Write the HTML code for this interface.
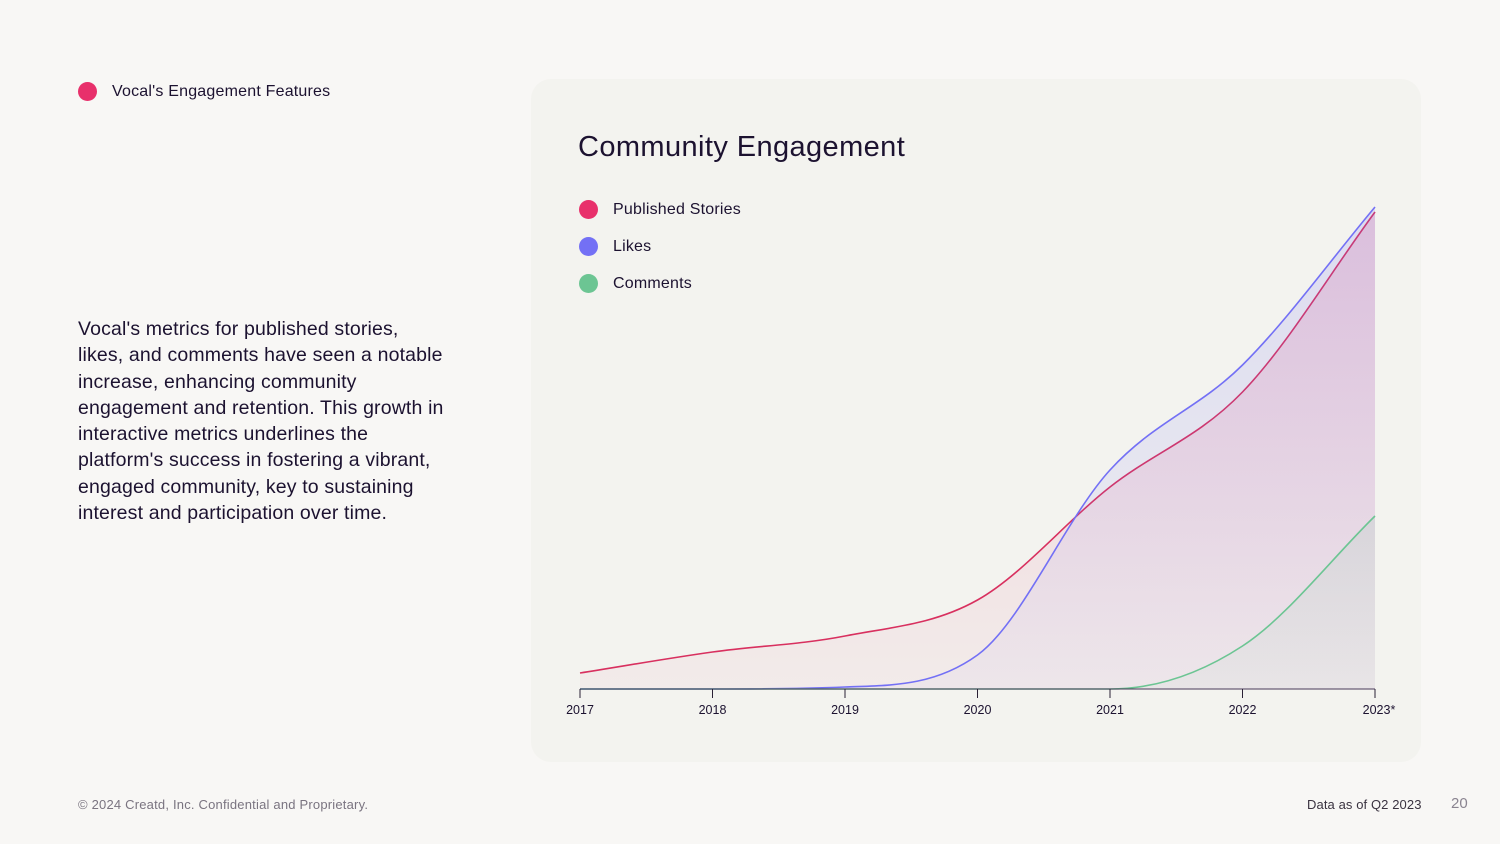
<!DOCTYPE html>
<html><head><meta charset="utf-8"><style>
body{margin:0;width:1500px;height:844px;background:#f8f7f5;font-family:"Liberation Sans",sans-serif;position:relative;overflow:hidden;color:#1c1230}
.abs{position:absolute}
.dot{position:absolute;width:19px;height:19px;border-radius:50%}
</style></head><body>
<div class="dot" style="left:78px;top:82px;background:#e8306b"></div>
<div class="abs" style="left:112px;top:83px;font-size:16px;letter-spacing:0.2px">Vocal's Engagement Features</div>
<div class="abs" style="left:78px;top:316px;white-space:nowrap;font-size:19.5px;line-height:26.3px;letter-spacing:0.15px">Vocal's metrics for published stories,<br>likes, and comments have seen a notable<br>increase, enhancing community<br>engagement and retention. This growth in<br>interactive metrics underlines the<br>platform's success in fostering a vibrant,<br>engaged community, key to sustaining<br>interest and participation over time.</div>
<div class="abs" style="left:531px;top:79px;width:890px;height:683px;background:#f3f3ef;border-radius:20px"></div>
<div class="abs" style="left:578px;top:131px;font-size:29px;letter-spacing:0.4px">Community Engagement</div>
<div class="dot" style="left:579px;top:200px;background:#e8306b"></div>
<div class="abs" style="left:613px;top:201px;font-size:16px;letter-spacing:0.2px">Published Stories</div>
<div class="dot" style="left:579px;top:237px;background:#7370f5"></div>
<div class="abs" style="left:613px;top:238px;font-size:16px;letter-spacing:0.2px">Likes</div>
<div class="dot" style="left:579px;top:274px;background:#6cc593"></div>
<div class="abs" style="left:613px;top:275px;font-size:16px;letter-spacing:0.2px">Comments</div>
<svg class="abs" style="left:0;top:0" width="1500" height="844">
<defs>
<linearGradient id="gS" x1="0" y1="0" x2="0" y2="1"><stop offset="0" stop-color="#e8306b" stop-opacity="0.18"/><stop offset="1" stop-color="#e8306b" stop-opacity="0.04"/></linearGradient>
<linearGradient id="gL" x1="0" y1="0" x2="0" y2="1"><stop offset="0" stop-color="#7370f5" stop-opacity="0.18"/><stop offset="1" stop-color="#7370f5" stop-opacity="0.04"/></linearGradient>
<linearGradient id="gC" x1="0" y1="0" x2="0" y2="1"><stop offset="0" stop-color="#6cc593" stop-opacity="0.12"/><stop offset="1" stop-color="#6cc593" stop-opacity="0.04"/></linearGradient>
</defs>
<g id="plot"></g>
</svg>
<div class="abs" style="left:78px;top:797px;font-size:13px;color:#7a7480;letter-spacing:0.2px">© 2024 Creatd, Inc. Confidential and Proprietary.</div>
<div class="abs" style="left:1307px;top:797px;font-size:13px;color:#3a3340;letter-spacing:0.1px">Data as of Q2 2023</div>
<div class="abs" style="left:1451px;top:795px;font-size:15px;color:#8a8490">20</div>
<script>
const years = ["2017","2018","2019","2020","2021","2022","2023*"];
const stories = [16,37,53,89,202,297,477];
const likes = [0,0,2,34,219,324,482];
const comments = [0,0,0,0,0,43,173];
const X0=580,X1=1375,Y0=689;
function xs(i){return X0+(X1-X0)*i/(years.length-1);}
function ys(v){return Y0-v;}
function mono(vals){
  const n=vals.length,px=vals.map((v,i)=>xs(i)),py=vals.map(ys);
  const d=[],m=[];
  for(let i=0;i<n-1;i++)d.push((py[i+1]-py[i])/(px[i+1]-px[i]));
  m[0]=d[0];m[n-1]=d[n-2];
  for(let i=1;i<n-1;i++){m[i]=(d[i-1]*d[i]<=0)?0:(d[i-1]+d[i])/2;}
  for(let i=0;i<n-1;i++){if(d[i]===0){m[i]=0;m[i+1]=0;continue;}const a=m[i]/d[i],b=m[i+1]/d[i],s=a*a+b*b;if(s>9){const t=3/Math.sqrt(s);m[i]=t*a*d[i];m[i+1]=t*b*d[i];}}
  let p=`M${px[0]},${py[0]}`;
  for(let i=0;i<n-1;i++){const h=(px[i+1]-px[i])/3;p+=` C${px[i]+h},${py[i]+m[i]*h} ${px[i+1]-h},${py[i+1]-m[i+1]*h} ${px[i+1]},${py[i+1]}`;}
  return p;
}
const g=document.getElementById('plot');
const NS='http://www.w3.org/2000/svg';
function add(tag,attrs,parent){const e=document.createElementNS(NS,tag);for(const k in attrs)e.setAttribute(k,attrs[k]);(parent||g).appendChild(e);return e;}
const series=[["stories",stories,"#d8305f","url(#gS)"],["likes",likes,"#7370f5","url(#gL)"],["comments",comments,"#6cc593","url(#gC)"]];
series.forEach(s=>{
  const line=mono(s[1]);
  const a=add('path',{d:line+` L${X1},${Y0} L${X0},${Y0} Z`,fill:s[3]});
  
  
  const l=add('path',{d:line,fill:'none',stroke:s[2],'stroke-width':1.6});
  
  
});
const ax=add('line',{x1:X0,x2:X1,y1:Y0,y2:Y0,stroke:'#4a3a5a','stroke-width':1});


years.forEach((y,i)=>{
  const t=add('line',{x1:xs(i),x2:xs(i),y1:Y0,y2:Y0+9,stroke:'#2a2035','stroke-width':1});
  
  
  const tx=add('text',{x:xs(i)+(i===years.length-1?4:0),y:Y0+25,'text-anchor':'middle','font-size':12.5,fill:'#1c1230','font-family':'Liberation Sans, sans-serif'});
  tx.textContent=y;
  
  
});
</script>
</body></html>
